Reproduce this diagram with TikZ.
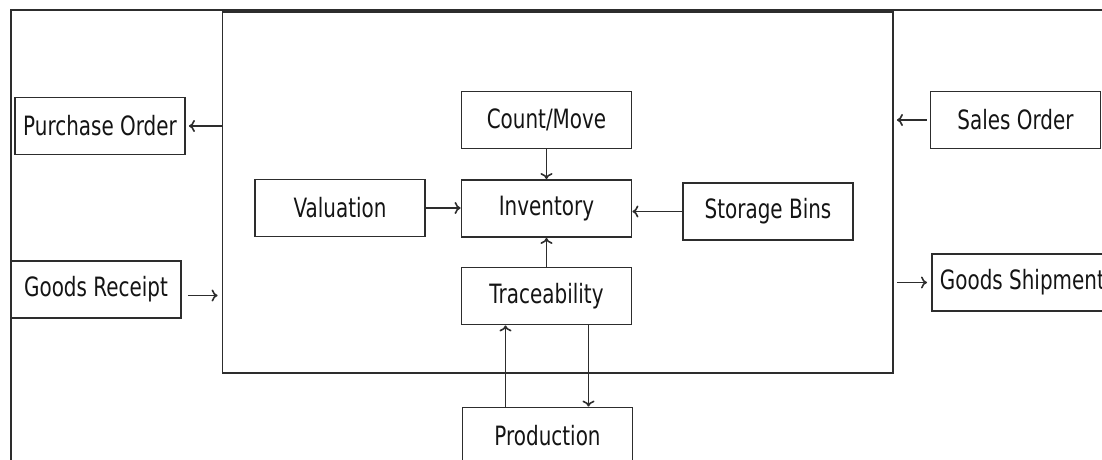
\documentclass[tikz,border=0pt]{standalone}
\usepackage{fontspec}
\setmainfont{DejaVu Sans}[FakeStretch=0.75]
\usetikzlibrary{arrows.meta}
\definecolor{linegray}{RGB}{45,45,45}
\definecolor{textgray}{RGB}{20,20,20}

\begin{document}
\begin{tikzpicture}[x=0.5pt,y=-0.5pt,
  box/.style={draw=linegray,line width=0.9pt,minimum width=85pt,minimum height=28.5pt,
    inner sep=4pt,text=textgray,font=\fontsize{13.3}{16}\selectfont},
  flow/.style={-{To[length=3pt,width=6pt]},draw=linegray,line width=0.8pt}]
\clip (0,0) rectangle (1102,460);
\draw[linegray,line width=1pt] (10.5,10.5) rectangle (1130,490);
\node[draw=linegray,line width=0.9pt,minimum width=335.25pt,minimum height=180.5pt] (erp) at (557.75,192.5) {};

\node[box] (po) at (100,126) {Purchase Order};
\node[box] (gr) at (96,289.5) {Goods Receipt};
\node[box] (cm) at (546.5,120) {Count/Move};
\node[box] (inv) at (546.5,208.5) {Inventory};
\node[box] (val) at (340,208) {Valuation};
\node[box] (sb) at (768,211.5) {Storage Bins};
\node[box] (tr) at (546.5,296) {Traceability};
\node[box] (prod) at (547.5,436) {Production};
\node[box] (so) at (1015.5,120) {Sales Order};
\node[box,anchor=west] (gs) at (931,282.5) {Goods Shipment};


\draw[flow,shorten >=1.5pt] (erp.west |- po) -- (po);
\draw[flow,shorten <=3pt,shorten >=2pt] ([yshift=-3pt]gr.east) -- ([yshift=-3pt]gr.east -| erp.west);
\draw[flow,shorten <=1.5pt,shorten >=1.5pt] (so.west) -- (so.west -| erp.east);
\draw[flow,shorten <=1.5pt,shorten >=2pt] (erp.east |- gs.west) -- (gs.west);
\draw[flow] (cm) -- (inv);
\draw[flow] (val) -- (val -| inv.west);
\draw[flow] (sb.west) -- (sb.west -| inv.east);
\draw[flow] (tr) -- (inv);
\draw[flow] ([xshift=-21pt]prod.north) -- ([xshift=-21pt]prod.north |- tr.south);
\draw[flow] ([xshift=21pt]tr.south) -- ([xshift=21pt]tr.south |- prod.north);
\end{tikzpicture}
\end{document}
